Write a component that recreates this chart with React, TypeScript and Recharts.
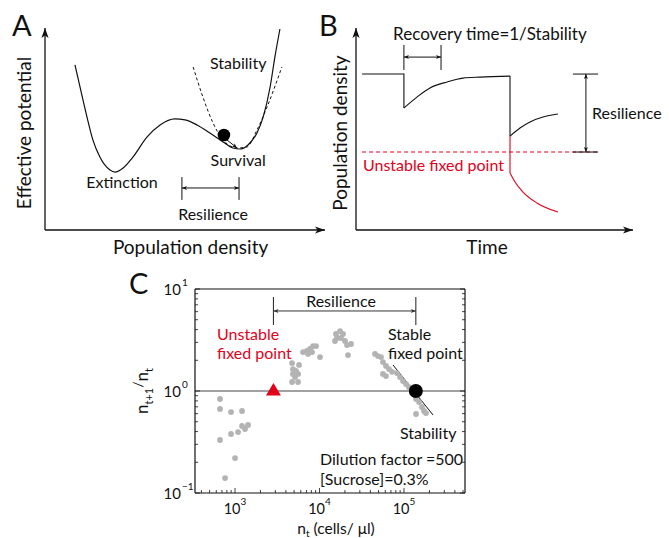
import React from "react";
import {
  ComposedChart,
  Line,
  Scatter,
  XAxis,
  YAxis,
  ReferenceLine,
  ReferenceDot,
} from "recharts";

const FONT = "Lato, 'Open Sans', sans-serif";
const RED = "#e3001b";
const GRAY = "#b3b3b3";
const INK = "#111";

/* ---------------- Panel A : effective potential (schematic units 0-100) ---------------- */
const potentialCurve = [
  { x: 10.7, y: 81.7 }, { x: 12.5, y: 70.8 }, { x: 15.0, y: 55.9 }, { x: 17.1, y: 44.6 },
  { x: 19.6, y: 36.1 }, { x: 23.2, y: 29.7 }, { x: 25.0, y: 28.7 }, { x: 27.9, y: 30.7 },
  { x: 31.4, y: 36.1 }, { x: 36.4, y: 46.0 }, { x: 41.1, y: 52.0 }, { x: 46.4, y: 55.0 },
  { x: 50.0, y: 54.5 }, { x: 54.3, y: 52.0 }, { x: 58.9, y: 48.0 }, { x: 63.6, y: 43.6 },
  { x: 67.1, y: 40.6 }, { x: 69.6, y: 40.1 }, { x: 72.5, y: 42.1 }, { x: 75.7, y: 48.0 },
  { x: 77.9, y: 55.9 }, { x: 80.4, y: 70.8 }, { x: 82.1, y: 85.6 }, { x: 83.9, y: 99.5 },
];
const curvatureParabola = [
  { x: 52.9, y: 80.7 }, { x: 56.4, y: 65.8 }, { x: 60.0, y: 53.0 }, { x: 63.6, y: 44.6 },
  { x: 68.6, y: 40.6 }, { x: 72.1, y: 41.1 }, { x: 75.7, y: 49.5 }, { x: 79.3, y: 60.9 },
  { x: 84.6, y: 80.7 },
];
const ball = { x: 63.9, y: 47.0 };
const ballArrow = [{ x: 64.6, y: 45.0 }, { x: 68.6, y: 40.6 }];
const resilienceA = { left: 48.9, right: 69.3, top: 26.2, bottom: 14.9, arrow: 20.8 };

/* ---------------- Panel B : time course (schematic units 0-100) ---------------- */
const baselineStep = [{ x: 2.2, y: 77.2 }, { x: 17.3, y: 77.2 }, { x: 17.3, y: 60.4 }];
const recoveryCurve = [
  { x: 17.3, y: 60.4 }, { x: 22.0, y: 65.8 }, { x: 26.7, y: 70.3 }, { x: 32.9, y: 73.3 },
  { x: 38.6, y: 75.2 }, { x: 44.8, y: 75.7 }, { x: 55.6, y: 76.2 },
];
const bigDropBlack = [{ x: 55.6, y: 76.2 }, { x: 55.6, y: 46.5 }];
const bigDropRed = [{ x: 55.6, y: 46.5 }, { x: 55.6, y: 28.2 }];
const survivalCurve = [
  { x: 55.6, y: 46.5 }, { x: 59.2, y: 50.5 }, { x: 62.8, y: 53.5 }, { x: 67.5, y: 55.9 },
  { x: 72.9, y: 57.4 },
];
const collapseCurve = [
  { x: 55.6, y: 28.2 }, { x: 57.4, y: 23.8 }, { x: 60.3, y: 18.8 }, { x: 65.3, y: 13.4 },
  { x: 72.9, y: 8.9 },
];
const unstableLevel = [{ x: 2.2, y: 38.6 }, { x: 87.0, y: 38.6 }];
const recoveryBracket = { left: 17.3, right: 30.7, top: 91.6, bottom: 79.2, arrow: 85.6 };
const resilienceB = { left: 78.3, right: 87.4, high: 77.2, low: 38.6, arrowX: 83.0 };

/* ---------------- Panel C : growth ratio vs density ---------------- */
const growthPoints = [
  { n: 664, r: 0.835 }, { n: 664, r: 0.667 }, { n: 897, r: 0.622 }, { n: 1210, r: 0.637 },
  { n: 664, r: 0.331 }, { n: 897, r: 0.379 }, { n: 1086, r: 0.396 }, { n: 1210, r: 0.454 },
  { n: 1313, r: 0.424 }, { n: 1426, r: 0.464 }, { n: 1000, r: 0.22 }, { n: 762, r: 0.14 },
  { n: 4730, r: 1.88 }, { n: 5720, r: 1.8 }, { n: 4850, r: 1.64 }, { n: 5270, r: 1.57 },
  { n: 4850, r: 1.47 }, { n: 5570, r: 1.47 }, { n: 5130, r: 1.37 }, { n: 4730, r: 1.225 },
  { n: 5570, r: 1.225 },
  { n: 6380, r: 2.41 }, { n: 7110, r: 2.47 }, { n: 7720, r: 2.58 }, { n: 8380, r: 2.76 },
  { n: 9100, r: 2.76 }, { n: 8150, r: 2.41 }, { n: 7310, r: 2.31 }, { n: 10140, r: 2.15 },
  { n: 15670, r: 3.62 }, { n: 17500, r: 3.87 }, { n: 18970, r: 3.62 }, { n: 16110, r: 3.31 },
  { n: 17950, r: 3.31 }, { n: 15250, r: 3.09 }, { n: 20040, r: 3.09 }, { n: 21150, r: 2.82 },
  { n: 23600, r: 2.89 }, { n: 21730, r: 2.25 },
  { n: 45390, r: 2.31 }, { n: 49230, r: 2.2 }, { n: 53460, r: 2.15 }, { n: 56370, r: 1.92 },
  { n: 61190, r: 1.76 }, { n: 66400, r: 1.64 }, { n: 72100, r: 1.54 }, { n: 56370, r: 1.47 },
  { n: 61190, r: 1.4 }, { n: 82600, r: 1.5 }, { n: 89700, r: 1.37 }, { n: 97300, r: 1.25 },
  { n: 105700, r: 1.17 }, { n: 114600, r: 1.09 }, { n: 121100, r: 1.02 }, { n: 138700, r: 0.835 },
  { n: 150700, r: 0.78 }, { n: 163300, r: 0.697 }, { n: 172600, r: 0.637 }, { n: 138700, r: 0.595 },
  { n: 182000, r: 0.608 },
];
const unstablePoint = { n: 2850, r: 1 };
const stablePoint = { n: 138000, r: 1 };
const stabilitySlope = [{ n: 74100, r: 1.8 }, { n: 220300, r: 0.582 }];
const resilienceC = { top: 8.35, bottom: 4.44, arrow: 6.09 };
const densityDomain = [336, 527000];
const ratioDomain = [0.1, 10];
const densityTicks = [
  400, 500, 600, 700, 800, 900, 1000, 2000, 3000, 4000, 5000, 6000, 7000, 8000, 9000,
  10000, 20000, 30000, 40000, 50000, 60000, 70000, 80000, 90000, 100000, 200000, 300000,
  400000, 500000,
];
const ratioTicks = [
  0.1, 0.2, 0.3, 0.4, 0.5, 0.6, 0.7, 0.8, 0.9, 1, 2, 3, 4, 5, 6, 7, 8, 9, 10,
];

/* ---------------- helpers ---------------- */
type ArrowOpts = {
  start?: boolean;
  end?: boolean;
  size?: number;
  half?: number;
  stroke?: string;
  width?: number;
  dash?: string;
};
const arrowShape = (o: ArrowOpts) => (p: any) => {
  const { x1, y1, x2, y2 } = p;
  const s = o.size ?? 5;
  const w = o.half ?? 2.2;
  const col = o.stroke ?? INK;
  const dx = x2 - x1;
  const dy = y2 - y1;
  const len = Math.hypot(dx, dy) || 1;
  const ux = dx / len;
  const uy = dy / len;
  const head = (tx: number, ty: number, dxx: number, dyy: number) => {
    const bx = tx - dxx * s;
    const by = ty - dyy * s;
    const px = -dyy * w;
    const py = dxx * w;
    const nx = tx - dxx * s * 0.75;
    const ny = ty - dyy * s * 0.75;
    return `${tx},${ty} ${bx + px},${by + py} ${nx},${ny} ${bx - px},${by - py}`;
  };
  return (
    <g>
      <line x1={x1} y1={y1} x2={x2} y2={y2} stroke={col} strokeWidth={o.width ?? 1} strokeDasharray={o.dash} />
      {o.end && <polygon points={head(x2, y2, ux, uy)} fill={col} />}
      {o.start && <polygon points={head(x1, y1, -ux, -uy)} fill={col} />}
    </g>
  );
};

type NoteOpts = { anchor?: "start" | "middle" | "end"; size?: number; color?: string; rotate?: boolean };
function note(key: string, x: number, y: number, content: React.ReactNode, o: NoteOpts = {}) {
  return (
    <ReferenceDot
      key={key}
      x={x}
      y={y}
      r={0}
      ifOverflow="visible"
      shape={(p: any) => (
        <text
          x={p.cx}
          y={p.cy}
          textAnchor={o.anchor ?? "middle"}
          dominantBaseline="central"
          fontSize={o.size ?? 16}
          fill={o.color ?? INK}
          fontFamily={FONT}
          transform={o.rotate ? `rotate(-90 ${p.cx} ${p.cy})` : undefined}
        >
          {content}
        </text>
      )}
    />
  );
}

function seg(key: string, a: { x: number; y: number }, b: { x: number; y: number }, shape: any) {
  return (
    <ReferenceLine key={key} segment={[a, b]} ifOverflow="visible" shape={shape} />
  );
}

const plainLine = (col: string, w = 1, dash?: string) => arrowShape({ stroke: col, width: w, dash });

/* ---------------- Panel A ---------------- */
function PanelA() {
  const r = resilienceA;
  return (
    <ComposedChart width={330} height={260} margin={{ top: 28, right: 5, bottom: 30, left: 45 }}>
      <XAxis type="number" dataKey="x" domain={[0, 100]} allowDataOverflow hide />
      <YAxis type="number" dataKey="y" domain={[0, 100]} allowDataOverflow hide />
      {seg("ax", { x: 0, y: 0 }, { x: 100, y: 0 }, arrowShape({ end: true, size: 10, half: 3.6, width: 1.3 }))}
      {seg("ay", { x: 0, y: 0 }, { x: 0, y: 100 }, arrowShape({ end: true, size: 10, half: 3.6, width: 1.3 }))}
      <Line data={curvatureParabola} dataKey="y" type="monotone" stroke={INK} strokeWidth={1} strokeDasharray="3 2.5" dot={false} isAnimationActive={false} />
      <Line data={potentialCurve} dataKey="y" type="monotone" stroke={INK} strokeWidth={1.2} dot={false} isAnimationActive={false} />
      <ReferenceDot x={ball.x} y={ball.y} r={6.3} fill="#000" stroke="none" ifOverflow="visible" />
      {seg("ba", ballArrow[0], ballArrow[1], arrowShape({ end: true, size: 5, half: 2, width: 1 }))}
      {seg("rl", { x: r.left, y: r.top }, { x: r.left, y: r.bottom }, plainLine(INK))}
      {seg("rr", { x: r.right, y: r.top }, { x: r.right, y: r.bottom }, plainLine(INK))}
      {seg("ra", { x: r.left, y: r.arrow }, { x: r.right, y: r.arrow }, arrowShape({ start: true, end: true, size: 5, half: 2 }))}
      {note("t1", -7.5, 48, "Effective potential", { rotate: true, size: 19 })}
      {note("t2", 52, -8.4, "Population density", { size: 19 })}
      {note("t3", 69, 82.7, "Stability")}
      {note("t4", 69, 35, "Survival")}
      {note("t5", 27.5, 23.8, "Extinction")}
      {note("t6", 60, 8.2, "Resilience")}
    </ComposedChart>
  );
}

/* ---------------- Panel B ---------------- */
function PanelB() {
  const rb = recoveryBracket;
  const rs = resilienceB;
  const lineProps = { dataKey: "y", dot: false, isAnimationActive: false } as const;
  return (
    <ComposedChart width={359} height={260} margin={{ top: 28, right: 36, bottom: 30, left: 46 }}>
      <XAxis type="number" dataKey="x" domain={[0, 100]} allowDataOverflow hide />
      <YAxis type="number" dataKey="y" domain={[0, 100]} allowDataOverflow hide />
      {seg("ax", { x: 0, y: 0 }, { x: 100, y: 0 }, arrowShape({ end: true, size: 10, half: 3.6, width: 1.3 }))}
      {seg("ay", { x: 0, y: 0 }, { x: 0, y: 100 }, arrowShape({ end: true, size: 10, half: 3.6, width: 1.3 }))}
      <Line data={unstableLevel} {...lineProps} type="linear" stroke={RED} strokeWidth={1.1} strokeDasharray="4 3" />
      <Line data={baselineStep} {...lineProps} type="linear" stroke={INK} strokeWidth={1.1} />
      <Line data={recoveryCurve} {...lineProps} type="monotone" stroke={INK} strokeWidth={1.1} />
      <Line data={bigDropBlack} {...lineProps} type="linear" stroke={INK} strokeWidth={1.1} />
      <Line data={bigDropRed} {...lineProps} type="linear" stroke={RED} strokeWidth={1.1} />
      <Line data={survivalCurve} {...lineProps} type="monotone" stroke={INK} strokeWidth={1.1} />
      <Line data={collapseCurve} {...lineProps} type="monotone" stroke={RED} strokeWidth={1.1} />
      {seg("r1", { x: rb.left, y: rb.top }, { x: rb.left, y: rb.bottom }, plainLine(INK))}
      {seg("r2", { x: rb.right, y: rb.top }, { x: rb.right, y: rb.bottom }, plainLine(INK))}
      {seg("r3", { x: rb.left, y: rb.arrow }, { x: rb.right, y: rb.arrow }, arrowShape({ start: true, end: true, size: 5, half: 2 }))}
      {seg("s1", { x: rs.left, y: rs.high }, { x: rs.right, y: rs.high }, plainLine(INK))}
      {seg("s2", { x: rs.left, y: rs.low }, { x: rs.right, y: rs.low }, plainLine(INK))}
      {seg("s3", { x: rs.arrowX, y: rs.high }, { x: rs.arrowX, y: rs.low }, arrowShape({ start: true, end: true, size: 5, half: 2 }))}
      {note("t1", -5.8, 48, "Population density", { rotate: true, size: 19 })}
      {note("t2", 47.3, -8.4, "Time", { size: 19 })}
      {note("t3", 13.4, 97.5, "Recovery time=1/Stability", { anchor: "start", size: 17 })}
      {note("t4", 85.2, 58.4, "Resilience", { anchor: "start" })}
      {note("t5", 2.5, 32.5, "Unstable fixed point", { anchor: "start", color: RED })}
    </ComposedChart>
  );
}

/* ---------------- Panel C ---------------- */
const isDecade = (v: number) => Math.abs(Math.log10(v) - Math.round(Math.log10(v))) < 1e-9;
const expLabel = (v: number) => {
  const e = Math.round(Math.log10(v));
  return e < 0 ? `\u2212${-e}` : `${e}`;
};

const BottomTick = (p: any) => {
  const { x, y, payload } = p;
  const v = payload.value;
  const major = isDecade(v);
  return (
    <g>
      <line x1={x} x2={x} y1={y} y2={y - (major ? 5 : 3)} stroke={INK} strokeWidth={0.8} />
      {major && (
        <text x={x} y={y + 21} textAnchor="middle" fontSize={14.5} fontFamily={FONT} fill={INK}>
          10
          <tspan dy={-9} fontSize={10}>{expLabel(v)}</tspan>
        </text>
      )}
    </g>
  );
};
const TopTick = (p: any) => {
  const { x, y, payload } = p;
  const major = isDecade(payload.value);
  return <line x1={x} x2={x} y1={y} y2={y + (major ? 5 : 3)} stroke={INK} strokeWidth={0.8} />;
};
const LeftTick = (p: any) => {
  const { x, y, payload } = p;
  const v = payload.value;
  const major = isDecade(v);
  return (
    <g>
      <line x1={x} x2={x + (major ? 5 : 3)} y1={y} y2={y} stroke={INK} strokeWidth={0.8} />
      {major && (
        <>
          <text x={x - 14} y={y + 6} textAnchor="end" fontSize={15} fontFamily={FONT} fill={INK}>
            10
          </text>
          <text x={x - 13} y={y - 3} textAnchor="start" fontSize={10} fontFamily={FONT} fill={INK}>
            {expLabel(v)}
          </text>
        </>
      )}
    </g>
  );
};
const RightTick = (p: any) => {
  const { x, y, payload } = p;
  const major = isDecade(payload.value);
  return <line x1={x} x2={x - (major ? 5 : 3)} y1={y} y2={y} stroke={INK} strokeWidth={0.8} />;
};

const TriangleMark = (p: any) => (
  <polygon points={`${p.cx},${p.cy - 8} ${p.cx + 7.5},${p.cy + 4.5} ${p.cx - 7.5},${p.cy + 4.5}`} fill={RED} />
);

function PanelC() {
  const rc = resilienceC;
  const axisCommon = { tickLine: false, tickSize: 0, tickMargin: 0, interval: 0 as const, axisLine: { stroke: INK, strokeWidth: 1.2 } };
  return (
    <ComposedChart width={339} height={278} margin={{ top: 28, right: 3, bottom: 0, left: 0 }}>
      <XAxis xAxisId="b" type="number" dataKey="n" scale="log" domain={densityDomain} allowDataOverflow ticks={densityTicks} height={45} tick={<BottomTick />} {...axisCommon} />
      <XAxis xAxisId="t" orientation="top" type="number" scale="log" domain={densityDomain} allowDataOverflow ticks={densityTicks} height={1} tick={<TopTick />} {...axisCommon} />
      <YAxis yAxisId="l" type="number" dataKey="r" scale="log" domain={ratioDomain} allowDataOverflow ticks={ratioTicks} width={65} tick={<LeftTick />} {...axisCommon} />
      <YAxis yAxisId="r" orientation="right" type="number" scale="log" domain={ratioDomain} allowDataOverflow ticks={ratioTicks} width={1} tick={<RightTick />} {...axisCommon} />
      <ReferenceLine xAxisId="b" yAxisId="l" y={1} stroke="#444" strokeWidth={1.2} />
      <Scatter
        xAxisId="b"
        yAxisId="l"
        data={growthPoints}
        dataKey="r"
        isAnimationActive={false}
        shape={(p: any) => <circle cx={p.cx} cy={p.cy} r={2.9} fill={GRAY} />}
      />
      <ReferenceLine xAxisId="b" yAxisId="l" segment={[{ x: stabilitySlope[0].n, y: stabilitySlope[0].r }, { x: stabilitySlope[1].n, y: stabilitySlope[1].r }]} stroke={INK} strokeWidth={1} ifOverflow="visible" />
      <ReferenceDot xAxisId="b" yAxisId="l" x={stablePoint.n} y={stablePoint.r} r={7} fill="#000" stroke="none" ifOverflow="visible" />
      <ReferenceDot xAxisId="b" yAxisId="l" x={unstablePoint.n} y={unstablePoint.r} r={7} ifOverflow="visible" shape={TriangleMark} />
      <ReferenceLine xAxisId="b" yAxisId="l" segment={[{ x: unstablePoint.n, y: rc.top }, { x: unstablePoint.n, y: rc.bottom }]} ifOverflow="visible" shape={plainLine("#333", 1.1)} />
      <ReferenceLine xAxisId="b" yAxisId="l" segment={[{ x: stablePoint.n, y: rc.top }, { x: stablePoint.n, y: rc.bottom }]} ifOverflow="visible" shape={plainLine("#333", 1.1)} />
      <ReferenceLine xAxisId="b" yAxisId="l" segment={[{ x: unstablePoint.n, y: rc.arrow }, { x: stablePoint.n, y: rc.arrow }]} ifOverflow="visible" shape={arrowShape({ start: true, end: true, size: 5, half: 2, stroke: "#333" })} />
      {[
        ["c1", 17960, 7.8, "Resilience", "middle", INK],
        ["c2", 612, 3.7, "Unstable", "start", RED],
        ["c3", 612, 2.36, "fixed point", "start", RED],
        ["c4", 64700, 3.7, "Stable", "start", INK],
        ["c5", 64700, 2.36, "fixed point", "start", INK],
        ["c6", 89700, 0.396, "Stability", "start", INK],
        ["c7", 10140, 0.22, "Dilution factor =500", "start", INK],
        ["c8", 10140, 0.14, "[Sucrose]=0.3%", "start", INK],
      ].map(([k, x, y, t, a, c]) => (
        <ReferenceDot
          key={k as string}
          xAxisId="b"
          yAxisId="l"
          x={x as number}
          y={y as number}
          r={0}
          ifOverflow="visible"
          shape={(p: any) => (
            <text x={p.cx} y={p.cy} textAnchor={a as any} dominantBaseline="central" fontSize={16} fill={c as string} fontFamily={FONT}>
              {t as string}
            </text>
          )}
        />
      ))}
    </ComposedChart>
  );
}

export default function App() {
  return (
    <div style={{ position: "absolute", left: 0, top: 0, width: 669, height: 538, background: "#fff", fontFamily: FONT }}>
      <div style={{ position: "absolute", left: 0, top: 0 }}>
        <PanelA />
      </div>
      <div style={{ position: "absolute", left: 310, top: 0 }}>
        <PanelB />
      </div>
      <div style={{ position: "absolute", left: 130, top: 260 }}>
        <PanelC />
      </div>
      <svg width={669} height={538} style={{ position: "absolute", left: 0, top: 0, pointerEvents: "none" }}>
        <text x={12} y={36} fontSize={29} fontFamily={FONT} fill={INK}>A</text>
        <text x={319} y={36} fontSize={29} fontFamily={FONT} fill={INK}>B</text>
        <text x={129} y={294} fontSize={29} fontFamily={FONT} fill={INK}>C</text>
        <text transform="translate(148 391) rotate(-90)" textAnchor="middle" fontSize={17} fontFamily={FONT} fill={INK}>
          n<tspan dy={5} fontSize={11}>t+1</tspan>
          <tspan dy={-10} fontSize={14}>/</tspan>
          <tspan dy={5}>n</tspan>
          <tspan dy={5} fontSize={11}>t</tspan>
        </text>
        <text x={336} y={534} textAnchor="middle" fontSize={15.5} fontFamily={FONT} fill={INK}>
          n<tspan dy={3} fontSize={10}>t</tspan>
          <tspan dy={-3}> (cells/ μl)</tspan>
        </text>
      </svg>
    </div>
  );
}
